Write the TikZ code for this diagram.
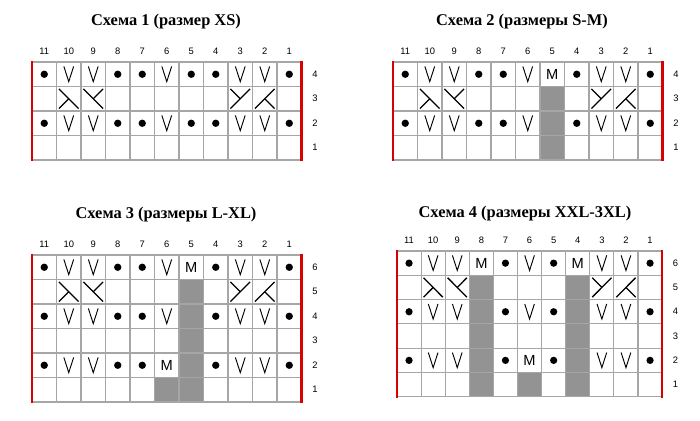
\documentclass[tikz,border=0pt]{standalone}
\usepackage{fontspec}
\setmainfont{Liberation Serif}
\setsansfont{Liberation Sans}
\usetikzlibrary{positioning}
\tikzset{
  gridline/.style={draw=gray!70,line width=0.9pt},
  edgeline/.style={draw=red!85!black,line width=2.2pt},
  shade/.style={fill=gray!85},
  knit/.style={line width=0.8pt},
  cable/.style={line width=1.1pt},
  numlabel/.style={font=\sffamily\fontsize{8}{9}\selectfont,inner sep=0pt},
  title/.style={font=\bfseries\fontsize{14}{16}\selectfont,inner sep=0pt},
  mark M/.style={font=\sffamily\fontsize{12.5}{12}\selectfont,inner sep=0pt}
}
% one chart: grid, numbers and red edges
\newcommand{\chartgrid}[1]{%
  \foreach \i in {0,...,11} \draw[gridline] (\i,0) -- (\i,#1);
  \foreach \j in {0,...,#1} \draw[gridline] (0,\j) -- (11,\j);
  \foreach \c in {1,...,11} \node[numlabel,anchor=base] (col\c) at ({11-\c+0.5},-0.3) {\c};
  \foreach \r in {1,...,#1} \node[numlabel] (row\r) at (11.55,{#1-\r+0.5}) {\r};
  \draw[edgeline] (0,-0.05) -- (0,#1+0.05);
  \draw[edgeline] (11,-0.05) -- (11,#1+0.05);
}
\newcommand{\cells}[3]{% rows count, row, list of col/type
  \foreach \c/\t in {#3}{
    \coordinate (m) at ({11-\c+0.5},{#1-#2+0.5});
    \if\t d\fill (m) circle (0.15);\fi
    \if\t v\draw[knit] ([shift={(-0.2,-0.32)}]m) -- ([shift={(0,0.3)}]m) -- ([shift={(0.2,-0.32)}]m);\fi
    \if\t m\node[mark M] at (m) {M};\fi
  }
}
\newcommand{\shades}[2]{%
  \foreach \c/\r in {#2} \fill[shade] ({11-\c},{#1-\r}) rectangle ++(1,1);
}
\newcommand{\cables}[2]{% rows count, row
  \coordinate (a) at ({1},{#1-#2});
  \draw[cable] ([shift={(0.1,0.1)}]a) -- ([shift={(0.9,0.9)}]a);
  \draw[cable] ([shift={(0.1,0.9)}]a) -- ([shift={(0.5,0.5)}]a);
  \draw[cable] ([shift={(1.1,0.1)}]a) -- ([shift={(1.9,0.9)}]a);
  \draw[cable] ([shift={(1.5,0.5)}]a) -- ([shift={(1.9,0.1)}]a);
  \coordinate (b) at ({8},{#1-#2});
  \draw[cable] ([shift={(0.1,0.9)}]b) -- ([shift={(0.9,0.1)}]b);
  \draw[cable] ([shift={(0.1,0.1)}]b) -- ([shift={(0.5,0.5)}]b);
  \draw[cable] ([shift={(1.1,0.9)}]b) -- ([shift={(1.9,0.1)}]b);
  \draw[cable] ([shift={(1.5,0.5)}]b) -- ([shift={(1.9,0.9)}]b);
}
\begin{document}
\begin{tikzpicture}[x=0.03cm,y=-0.03cm]
  \useasboundingbox (0,0) rectangle (700,421);
  \node[title] (t1) at (166,22) {Схема 1 (размер XS)};
  \node[title] (t2) at (522,22) {Схема 2 (размеры S-M)};
  \node[title] (t3) at (166,215) {Схема 3 (размеры L-XL)};
  \node[title] (t4) at (525,214) {Схема 4 (размеры XXL-3XL)};
  %%% chart 1
  \begin{scope}[shift={(32,62)},x=0.735cm,y=-0.735cm]
    \chartgrid{4}
    \cells{4}{4}{11/d,10/v,9/v,8/d,7/d,6/v,5/d,4/d,3/v,2/v,1/d}
    \cables{4}{3}
    \cells{4}{2}{11/d,10/v,9/v,8/d,7/d,6/v,5/d,4/d,3/v,2/v,1/d}
  \end{scope}
  %%% chart 2
  \begin{scope}[shift={(393,62)},x=0.735cm,y=-0.735cm]
    \shades{4}{5/3,5/2,5/1}
    \chartgrid{4}
    \cells{4}{4}{11/d,10/v,9/v,8/d,7/d,6/v,5/m,4/d,3/v,2/v,1/d}
    \cables{4}{3}
    \cells{4}{2}{11/d,10/v,9/v,8/d,7/d,6/v,4/d,3/v,2/v,1/d}
  \end{scope}
  %%% chart 3
  \begin{scope}[shift={(32,255)},x=0.735cm,y=-0.735cm]
    \shades{6}{5/5,5/4,5/3,5/2,5/1,6/1}
    \chartgrid{6}
    \cells{6}{6}{11/d,10/v,9/v,8/d,7/d,6/v,5/m,4/d,3/v,2/v,1/d}
    \cables{6}{5}
    \cells{6}{4}{11/d,10/v,9/v,8/d,7/d,6/v,4/d,3/v,2/v,1/d}
    \cells{6}{2}{11/d,10/v,9/v,8/d,7/d,6/m,4/d,3/v,2/v,1/d}
  \end{scope}
  %%% chart 4
  \begin{scope}[shift={(397,251)},x=0.723cm,y=-0.729cm]
    \shades{6}{8/5,8/4,8/3,8/2,8/1,4/5,4/4,4/3,4/2,4/1,6/1}
    \chartgrid{6}
    \cells{6}{6}{11/d,10/v,9/v,8/m,7/d,6/v,5/d,4/m,3/v,2/v,1/d}
    \cables{6}{5}
    \cells{6}{4}{11/d,10/v,9/v,7/d,6/v,5/d,3/v,2/v,1/d}
    \cells{6}{2}{11/d,10/v,9/v,7/d,6/m,5/d,3/v,2/v,1/d}
  \end{scope}
\end{tikzpicture}
\end{document}
